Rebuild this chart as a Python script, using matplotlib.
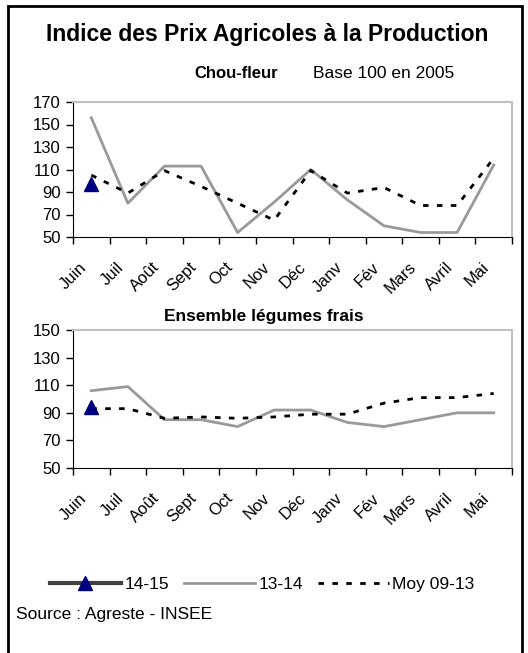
import matplotlib
matplotlib.use("Agg")
import matplotlib.pyplot as plt
import numpy as np
from matplotlib.patches import Rectangle

plt.rcParams['font.family'] = ['Liberation Sans', 'DejaVu Sans']

months = ['Juin', 'Juil', 'Août', 'Sept', 'Oct', 'Nov', 'Déc', 'Janv', 'Fév', 'Mars', 'Avril', 'Mai']

# Chou-fleur
chou_1415 = [97] + [np.nan] * 11
chou_1314 = [156, 80, 113, 113, 54, 81, 110, 83, 60, 54, 54, 114]
chou_moy = [105, 89, 109, 95, 80, 65, 109, 89, 94, 78, 78, 120]

# Ensemble légumes frais
leg_1415 = [94] + [np.nan] * 11
leg_1314 = [106, 109, 85, 85, 80, 92, 92, 83, 80, 85, 90, 90]
leg_moy = [93, 93, 86, 87, 86, 87, 89, 89, 97, 101, 101, 104]

W, H = 528, 653
fig = plt.figure(figsize=(W / 100, H / 100), dpi=100)

# outer frame
fig.patches.append(Rectangle((8 / W, -0.05), (522 - 8) / W, (H - 6) / H + 0.05,
                             transform=fig.transFigure, fill=False,
                             edgecolor='black', linewidth=2))


def make_ax(top_px, bot_px, s1415, s1314, smoy, yticks):
    ax = fig.add_axes([73 / W, (H - bot_px) / H, (512 - 73) / W, (bot_px - top_px) / H])
    x = np.arange(12) + 0.5
    l1, = ax.plot(x, s1415, color='#404040', lw=3, marker='^', ms=10,
                  mfc='#000080', mec='#000080', zorder=5, label='14-15')
    l2, = ax.plot(x, s1314, color='#999999', lw=2, label='13-14')
    l3, = ax.plot(x, smoy, color='black', lw=2, dashes=(2, 3), label='Moy 09-13')
    ax.set_xlim(0, 12)
    ax.set_ylim(yticks[0], yticks[-1])
    ax.set_yticks(yticks)
    ax.set_xticks(np.arange(13))
    ax.set_xticklabels([])
    ax.tick_params(axis='both', direction='out', length=5, width=1, labelsize=12, pad=4)
    for i, m in enumerate(months):
        ax.annotate(m, xy=(i + 0.5, 0), xycoords=('data', 'axes fraction'),
                    xytext=(-5, -20), textcoords='offset points',
                    rotation=45, ha='right', va='center', rotation_mode='anchor',
                    fontsize=12)
    for s in ['top', 'right']:
        ax.spines[s].set_color('#c0c0c0')
        ax.spines[s].set_linewidth(1.5)
    for s in ['left', 'bottom']:
        ax.spines[s].set_color('black')
    return l1, l2, l3


handles = make_ax(102, 237, chou_1415, chou_1314, chou_moy, [50, 70, 90, 110, 130, 150, 170])
make_ax(330, 468, leg_1415, leg_1314, leg_moy, [50, 70, 90, 110, 130, 150])

fig.text(267 / W, 1 - 35 / H, 'Indice des Prix Agricoles à la Production',
         ha='center', va='center', fontsize=16.5, fontweight='bold')
fig.text(236 / W, 1 - 74 / H, 'Chou-fleur', ha='center', va='center',
         fontsize=12, fontweight='bold')
fig.text(313 / W, 1 - 73 / H, 'Base 100 en 2005', ha='left', va='center', fontsize=12.5)
fig.text(264 / W, 1 - 317 / H, 'Ensemble légumes frais', ha='center', va='center',
         fontsize=12.5, fontweight='bold')

fig.legend(handles=handles, loc='center', bbox_to_anchor=(262 / W, 1 - 584 / H),
           ncol=3, frameon=False, fontsize=12.5, handlelength=4.1,
           handletextpad=0.2, columnspacing=0.85)

fig.text(16 / W, 1 - 614 / H, 'Source : Agreste - INSEE', ha='left', va='center', fontsize=12.5)

fig.savefig('out.png', dpi=100)
